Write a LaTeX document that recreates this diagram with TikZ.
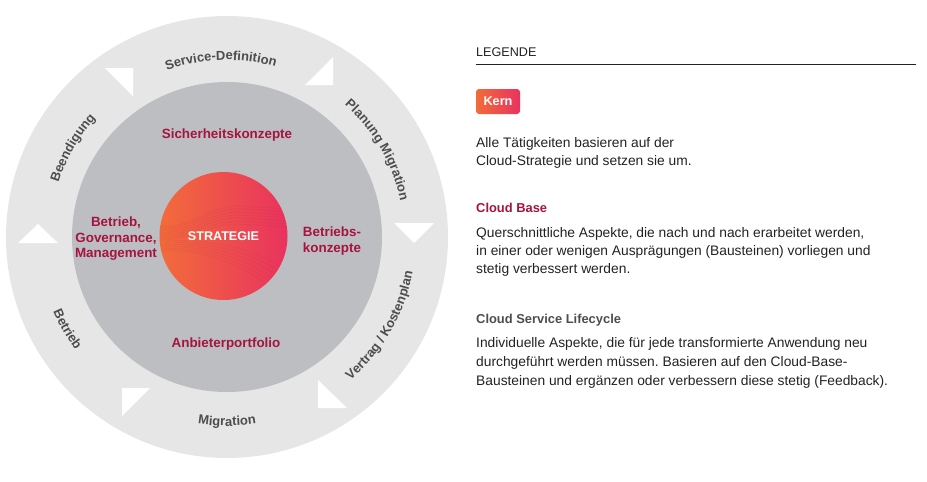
\documentclass[tikz,border=0pt]{standalone}
\usepackage{fontspec}
\setmainfont{Liberation Sans}
\frenchspacing
\usetikzlibrary{decorations.text,positioning}
\definecolor{ringgray}{HTML}{E6E6E6}
\definecolor{basegray}{HTML}{BDBEC1}
\definecolor{cbred}{HTML}{A5143F}
\definecolor{lifegray}{HTML}{4D4D4D}
\definecolor{legtext}{HTML}{222222}
\definecolor{kernorange}{HTML}{F26C3A}
\definecolor{kernmid}{HTML}{EE4A54}
\definecolor{kernpink}{HTML}{E9325F}

\begin{document}
\begin{tikzpicture}[x=1pt,y=1pt,
    inner/.style={text=cbred,font=\bfseries\fontsize{13.4}{15.5}\selectfont,align=center,inner sep=0pt},
    legbody/.style={text=legtext,align=left,anchor=north west,inner sep=0pt},
    leghead/.style={font=\bfseries\fontsize{12.9}{15}\selectfont,anchor=base west,inner sep=0pt},
    arclabel/.style={decorate,decoration={text along path,text align=center,
        text={|\color{lifegray}\bfseries\fontsize{13}{13}\selectfont|#1}}}]
  \useasboundingbox (0,0) rectangle (927,-482);
  \coordinate (c) at (227,-237);
  \coordinate (cc) at (223.5,-236);
  % lifecycle ring and cloud base
  \fill[ringgray] (c) circle (221);
  \fill[basegray] (c) circle (155);
  % white arrow heads in the ring
  \fill[white] (105,-68) -- (133,-68) -- (133,-96) -- cycle;
  \fill[white] (305,-85) -- (333,-57) -- (333,-85) -- cycle;
  \fill[white] (394,-223) -- (434,-223) -- (414,-243) -- cycle;
  \fill[white] (318,-380) -- (318,-408) -- (347,-408) -- cycle;
  \fill[white] (122,-388) -- (150,-388) -- (122,-416) -- cycle;
  \fill[white] (18,-243) -- (58,-243) -- (38,-224) -- cycle;
  % lifecycle steps
  \path[arclabel={Beendigung}] ([shift={(210:177)}]c) arc[start angle=210,end angle=90,radius=177];
  \path[arclabel={Service-Definition}] ([shift={(152:177)}]c) arc[start angle=152,end angle=32,radius=177];
  \path[arclabel={Planung Migration}] ([shift={(90:177)}]c) arc[start angle=90,end angle=-30,radius=177];
  \path[arclabel={Vertrag / Kostenplan}] ([shift={(-90:189)}]c) arc[start angle=-90,end angle=30,radius=189];
  \path[arclabel={Migration}] ([shift={(-150:189)}]c) arc[start angle=-150,end angle=-30,radius=189];
  \path[arclabel={Betrieb}] ([shift={(-210:189)}]c) arc[start angle=-210,end angle=-90,radius=189];
  % core
  \shade[left color=kernorange,middle color=kernmid,right color=kernpink] (cc) circle (64);
  \begin{scope}
    \clip (cc) circle (64);
    \foreach \i in {0,...,6}
      \draw[kernpink!80!black,opacity=0.14,line width=0.8pt]
        (158,{-226-2*\i}) .. controls (195,{-229-2*\i}) and (205,{-206-3*\i}) .. (240,{-206-3*\i}) -- (290,{-209-3*\i});
    \foreach \i in {0,...,5}
      \draw[kernpink!80!black,opacity=0.12,line width=0.8pt]
        (158,{-240-2*\i}) .. controls (225,{-240-2*\i}) and (255,{-250-5*\i}) .. (290,{-272-6*\i});
  \end{scope}
  \node[text=white,font=\bfseries\fontsize{12.6}{14}\selectfont,inner sep=0pt] (strat) at (cc) {STRATEGIE};
  % cloud base topics
  \node[inner,anchor=base] (sich) at (227,-138) {Sicherheitskonzepte};
  \node[inner,anchor=north] (betr) at (116,-217) {Betrieb,\\Governance,\\Management};
  \node[inner,anchor=north,font=\bfseries\fontsize{13.4}{16}\selectfont] (bkonz) at (332,-227) {Betriebs-\\konzepte};
  \node[inner,anchor=base] (anb) at (226,-347) {Anbieterportfolio};
  % legend
  \node[text=legtext,font=\fontsize{12.6}{14}\selectfont,anchor=base west,inner sep=0pt] (leg) at (476,-56) {LEGENDE};
  \draw[legtext,line width=1pt] (476,-64) -- (916,-64);
  \node[left color=kernorange,right color=kernpink,rounded corners=3pt,minimum width=44,minimum height=25,
    text=white,font=\bfseries\fontsize{12.7}{14}\selectfont,inner sep=0pt] (kern) at (498,-101.5) {Kern};
  \node[legbody,font=\fontsize{13.8}{18.3}\selectfont] (kerntxt) at (476,-137)
    {Alle Tätigkeiten basieren auf der\\Cloud-Strategie und setzen sie um.};
  \node[leghead,text=cbred] (basehd) at (476,-212) {Cloud Base};
  \node[legbody,font=\fontsize{13.8}{18.3}\selectfont] (basetxt) at (476,-227)
    {Querschnittliche Aspekte, die nach und nach erarbeitet werden,\\in einer oder wenigen Ausprägungen (Bausteinen) vorliegen und\\stetig verbessert werden.};
  \node[leghead,text=lifegray] (lifehd) at (476,-323) {Cloud Service Lifecycle};
  \node[legbody,font=\fontsize{13.8}{18.9}\selectfont] (lifetxt) at (476,-337)
    {Individuelle Aspekte, die für jede transformierte Anwendung neu\\durchgeführt werden müssen. Basieren auf den Cloud-Base-\\Bausteinen und ergänzen oder verbessern diese stetig (Feedback).};
\end{tikzpicture}
\end{document}
